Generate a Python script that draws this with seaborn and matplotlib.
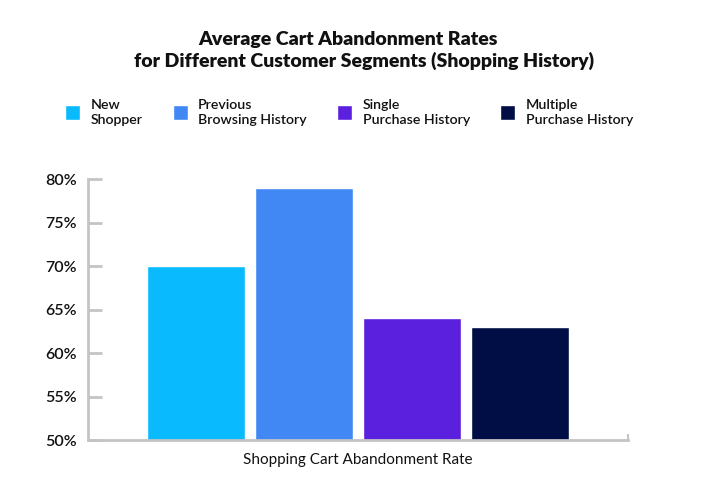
import pandas as pd
import matplotlib.pyplot as plt
import seaborn as sns
from matplotlib.patches import Patch
from matplotlib.ticker import PercentFormatter

# Данные графика
segments = ["New\nShopper", "Previous\nBrowsing History",
            "Single\nPurchase History", "Multiple\nPurchase History"]
rates = [70, 79, 64, 63]
category = "Shopping Cart Abandonment Rate"
colors = ["#0ABAFE", "#4188F4", "#5B1FDE", "#000E45"]

df = pd.DataFrame({"category": [category] * len(segments),
                   "segment": segments,
                   "rate": rates})

sns.set_style("white")
plt.rcParams["font.family"] = ["Lato", "DejaVu Sans"]

fig = plt.figure(figsize=(7.01, 4.98), dpi=100)
ax = fig.add_axes([88 / 701, 1 - 440 / 498, 540 / 701, (440 - 179) / 498])

sns.barplot(data=df, x="category", y="rate", hue="segment",
            palette=colors, saturation=1, width=0.8, gap=0.1, ax=ax, legend=False)

ax.set_ylim(50, 80)
ax.set_xlim(-0.5, 0.5)
ax.set_yticks(range(50, 81, 5))
ax.yaxis.set_major_formatter(PercentFormatter(decimals=0))
ax.set_ylabel("")
ax.set_xlabel(category, fontsize=11, labelpad=6, color="#111111")
ax.set_xticks([])
ax.set_xticks([0.5], minor=True)

sns.despine(ax=ax)
for side in ["left", "bottom"]:
    ax.spines[side].set_color("#c4c4c4")
    ax.spines[side].set_linewidth(2)

ax.tick_params(axis="y", direction="in", length=10, width=2, color="#c4c4c4",
               labelsize=11.5, pad=8, labelcolor="#111111", left=True)
ax.tick_params(axis="x", which="minor", direction="in", length=4, width=1.5,
               color="#c4c4c4", bottom=True)
for lbl in ax.get_yticklabels():
    lbl.set_fontweight("semibold")

# Легенда сверху
handles = [Patch(facecolor=c, label=s) for c, s in zip(colors, segments)]
leg = fig.legend(handles=handles, ncol=4, loc="upper left",
                 bbox_to_anchor=(52 / 701, 1 - 86 / 498), frameon=False,
                 prop={"size": 10.2, "weight": "semibold"},
                 handlelength=1.05, handleheight=1.3, handletextpad=0.75,
                 columnspacing=2.15, labelcolor="#111111")
for t in leg.get_texts():
    t.set_linespacing(1.3)

# Заголовок
fig.text(348 / 701, 1 - 39 / 498, "Average Cart Abandonment Rates",
         ha="center", va="center", fontsize=14, fontweight="heavy", color="#111111")
fig.text(364 / 701, 1 - 61 / 498,
         "for Different Customer Segments (Shopping History)",
         ha="center", va="center", fontsize=14, fontweight="heavy", color="#111111")

plt.savefig("out.png", dpi=100)
